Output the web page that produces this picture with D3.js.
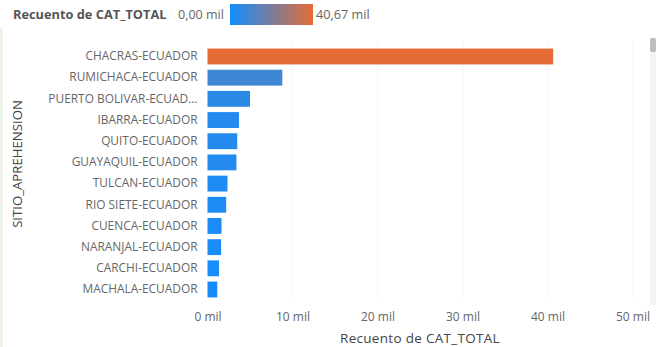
<!DOCTYPE html>
<html>
<head>
<meta charset="utf-8">
<script src="https://cdn.jsdelivr.net/npm/d3@7"></script>
<style>
  html, body { margin: 0; padding: 0; background: #fff; }
  svg { display: block; font-family: "Segoe UI", "Open Sans", "Noto Sans", sans-serif; }
</style>
</head>
<body>
<svg id="chart" width="663" height="347"></svg>
<script>
// Recuento de CAT_TOTAL por sitio de aprehensión (miles)
const sites = [
  "CHACRAS-ECUADOR", "RUMICHACA-ECUADOR", "PUERTO BOLIVAR-ECUAD...", "IBARRA-ECUADOR",
  "QUITO-ECUADOR", "GUAYAQUIL-ECUADOR", "TULCAN-ECUADOR", "RIO SIETE-ECUADOR",
  "CUENCA-ECUADOR", "NARANJAL-ECUADOR", "CARCHI-ECUADOR", "MACHALA-ECUADOR"
];
const counts = [40.67, 8.8, 5.0, 3.7, 3.5, 3.4, 2.35, 2.2, 1.65, 1.6, 1.35, 1.15];
const xTicks = [0, 10, 20, 30, 40, 50];
const legendMin = "0,00 mil";
const legendMax = "40,67 mil";
const measureName = "Recuento de CAT_TOTAL";
const categoryName = "SITIO_APREHENSION";

const rows = sites.map((s, i) => ({ site: s, value: counts[i] }));

const svg = d3.select("#chart");
const FONT = "\"Segoe UI\", \"Open Sans\", sans-serif";

// page border on the left
svg.append("line").attr("x1", 1.5).attr("x2", 1.5).attr("y1", 28).attr("y2", 347)
  .attr("stroke", "#e6f0dc").attr("stroke-width", 2);

const lo = "#118DFF", hi = "#E66C37";
const color = d3.scaleLinear().domain([0, d3.max(counts)]).range([lo, hi])
  .interpolate(d3.interpolateRgb);

// legend
const legend = svg.append("g");
legend.append("text").attr("x", 13).attr("y", 19)
  .attr("font-size", 12.8).attr("font-weight", 700).attr("fill", "#555")
  .text(measureName);
legend.append("text").attr("x", 178).attr("y", 19)
  .attr("font-size", 12.5).attr("fill", "#666").text(legendMin);
const grad = svg.append("defs").append("linearGradient").attr("id", "lg");
grad.append("stop").attr("offset", "0%").attr("stop-color", lo);
grad.append("stop").attr("offset", "100%").attr("stop-color", hi);
legend.append("rect").attr("x", 230).attr("y", 4).attr("width", 83).attr("height", 21)
  .attr("fill", "url(#lg)");
legend.append("text").attr("x", 316).attr("y", 19)
  .attr("font-size", 12.7).attr("fill", "#666").text(legendMax);

const margin = { left: 207.5, right: 30.5, top: 46, bottom: 46 };
const W = 663;

const x = d3.scaleLinear().domain([0, 50]).range([margin.left, W - margin.right]);
const y = d3.scaleBand().domain(sites).range([margin.top, 300]).paddingInner(0.25).paddingOuter(0.12);

// dotted gridlines
svg.append("g").selectAll("line").data(xTicks).join("line")
  .attr("x1", d => x(d) + 0.5).attr("x2", d => x(d) + 0.5)
  .attr("y1", margin.top - 4).attr("y2", 300)
  .attr("stroke", d => d === 0 ? "none" : "#e4e4e4")
  .attr("stroke-dasharray", "1,3");

// bars
svg.append("g").selectAll("rect").data(rows).join("rect")
  .attr("x", x(0))
  .attr("y", d => y(d.site))
  .attr("width", d => x(d.value) - x(0))
  .attr("height", y.bandwidth())
  .attr("fill", d => color(d.value));

// category axis
const yAxis = svg.append("g").attr("transform", `translate(${margin.left - 10},0)`)
  .call(d3.axisLeft(y).tickSize(0).tickPadding(0));
yAxis.select(".domain").remove();
yAxis.selectAll("text").attr("font-size", 11.9).attr("fill", "#666")
  .attr("font-family", FONT);

// value axis
const xAxis = svg.append("g").attr("transform", "translate(0,309)")
  .call(d3.axisBottom(x).tickValues(xTicks).tickSize(0).tickPadding(3)
    .tickFormat(d => d + " mil"));
xAxis.select(".domain").remove();
xAxis.selectAll("text").attr("font-size", 12).attr("fill", "#666")
  .attr("font-family", FONT);

// axis titles
svg.append("text").attr("x", 420).attr("y", 343).attr("text-anchor", "middle")
  .attr("font-size", 13.5).attr("letter-spacing", 0.3).attr("fill", "#444").text(measureName);
svg.append("text").attr("transform", "translate(22,164) rotate(-90)")
  .attr("text-anchor", "middle").attr("font-size", 13.2).attr("fill", "#444")
  .text(categoryName);

// scrollbar
svg.append("rect").attr("x", 650).attr("y", 38).attr("width", 6).attr("height", 267)
  .attr("fill", "#f3f3f3");
svg.append("rect").attr("x", 650).attr("y", 38).attr("width", 6).attr("height", 14)
  .attr("rx", 2).attr("fill", "#bdbdbd");
</script>
</body>
</html>
